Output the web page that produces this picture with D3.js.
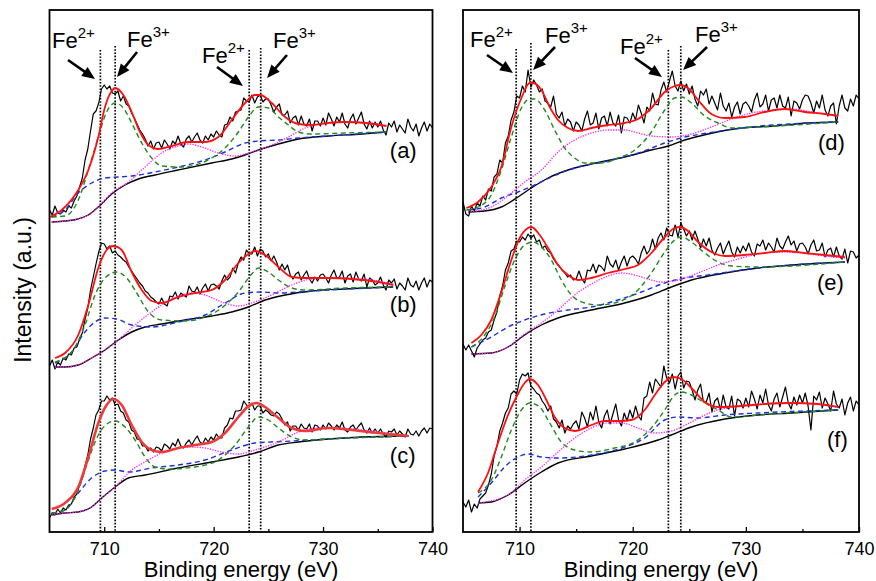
<!DOCTYPE html>
<html><head><meta charset="utf-8">
<script src="https://cdn.jsdelivr.net/npm/d3@7"></script>
<style>
body{margin:0;background:#fff}
svg{display:block}
text{font-family:Arial,"Liberation Sans",Helvetica,sans-serif;fill:#000}
</style>
</head><body>
<svg id="chart" width="876" height="581"></svg>
<script>
// ---------------- DATA (binding energy in eV, intensity in arbitrary units) ----------------
const E_START = 705, E_STEP = 0.25;            // raw spectra sampled every 0.25 eV from 705 eV
const majorTicks = [710, 720, 730, 740];
const minorTicks = [715, 725, 735];
const xDomain = [705, 740];

const rawA = [322,317,326,319,318,322,320,326,324,331,336,345,354,372,383,401,418,421,429,443,
447,443,446,439,438,441,431,436,428,426,419,414,408,402,398,393,386,391,383,389,
390,384,392,388,383,391,388,396,388,385,393,396,390,395,399,392,389,396,392,398,
395,401,397,395,407,408,415,411,420,421,422,434,431,430,437,429,435,437,430,433,
433,427,420,425,428,417,417,421,409,414,416,407,416,408,406,413,401,411,411,406,
414,407,419,413,406,415,410,419,408,404,413,418,408,414,420,408,403,411,404,410,
405,411,402,397,409,405,411,400,407,403,399,413,405,401,408,396,404,410,401,408,404];
const rawB = [166,172,163,170,167,174,172,178,177,184,185,193,199,213,224,242,255,268,280,289,
288,283,286,279,281,277,275,272,270,265,261,257,253,249,246,241,239,235,233,230,
228,234,228,226,236,235,240,233,239,237,235,246,241,240,245,238,244,248,241,247,
248,246,243,251,257,252,255,264,259,269,275,272,282,278,278,285,276,283,281,275,
278,271,276,270,262,268,262,267,257,253,258,260,252,257,261,253,249,255,251,257,
258,254,249,257,262,254,255,261,249,256,258,250,260,253,251,258,245,254,252,247,
249,255,247,242,252,249,253,243,249,246,242,254,247,245,251,242,249,254,245,252,250];
const rawC = [14,19,17,23,19,24,22,27,28,35,38,47,54,66,77,93,104,117,122,131,
131,136,132,134,127,128,121,119,112,110,102,100,93,92,86,86,81,84,80,85,
84,81,88,86,83,89,86,93,86,84,89,92,87,92,96,90,88,94,90,95,
92,98,94,94,104,107,114,113,121,121,122,131,127,125,129,122,126,126,119,122,
120,117,116,120,118,113,107,110,101,106,106,102,108,104,103,108,100,107,106,102,
107,103,109,106,102,107,104,110,102,100,105,107,102,106,109,102,99,104,99,103,
99,103,98,95,101,100,103,97,101,98,95,103,98,97,101,96,101,104,99,104,103];
const rawD = [330,318,316,326,321,329,326,336,332,343,341,355,358,372,369,389,396,412,420,436,
434,446,440,462,445,452,447,440,443,431,429,425,436,418,414,420,406,413,410,401,
410,407,401,413,421,407,409,419,403,414,416,406,420,409,406,417,399,415,414,409,
419,412,427,419,409,425,421,439,428,427,442,450,440,451,461,446,441,451,441,448,
438,446,433,426,441,437,443,428,436,429,422,439,426,421,429,415,425,430,418,428,
430,426,420,432,439,425,428,437,421,432,434,424,437,426,424,435,416,431,429,423,
432,437,436,429,419,431,424,437,422,416,426,429,408,426,437,424,421,433,426,437,433];
const rawE = [188,182,187,181,175,184,188,192,194,200,202,212,220,236,246,262,269,281,283,291,
290,295,292,298,294,297,290,292,284,286,281,279,273,269,266,262,259,255,257,252,
253,261,253,249,262,261,268,259,267,265,261,276,268,265,272,262,270,276,266,274,
276,273,268,279,286,278,282,293,283,294,299,292,304,297,296,307,295,309,303,296,
301,292,301,293,284,293,286,294,282,277,284,289,278,285,291,280,275,285,279,286,
281,289,280,276,288,286,292,282,289,285,280,294,286,283,290,296,287,291,281,288,
289,285,278,287,292,281,282,289,275,282,284,275,285,276,273,283,269,281,280,274,277];
const rawF = [30,25,32,20,28,24,33,36,39,47,58,76,86,101,109,119,124,138,141,138,
152,158,156,159,146,143,139,137,131,127,121,126,113,110,104,112,99,106,103,108,
111,103,120,114,105,120,112,126,110,104,116,122,108,118,128,112,106,119,111,122,
114,126,116,112,134,136,150,139,153,149,145,166,154,149,158,143,156,160,144,151,
150,142,132,142,148,130,130,139,120,131,134,122,137,125,123,136,116,133,131,124,
134,125,141,133,123,137,129,143,127,121,133,139,125,135,145,129,123,135,127,137,
129,139,126,102,136,132,140,124,134,128,121,141,128,124,133,117,129,135,121,131,127];

// fitted curves: [energy, intensity]
const bgA = [[705.2,310],[706.4,311],[707.6,313],[708.55,317],[709.46,325],[710.68,338],[711.9,347],[713.12,353],[714.64,357],[716.77,362],[719.82,369],[721.65,373],[722.87,377],[724.09,382],[725.92,388],[727.75,393],[730.49,396],[733.53,398],[735.8,400]];
const envA = [[705.05,315],[706.11,322],[707.63,342],[708.55,362],[709.46,395],[710.07,425],[710.68,441],[710.99,444],[711.75,437],[712.51,420],[713.27,400],[714.04,387],[714.95,383],[716.17,386],[717.69,390],[719.21,390],[720.43,395],[721.65,412],[722.87,429],[723.79,437],[724.24,437],[725.31,429],[726.53,415],[727.75,408],[728.96,407],[730.49,409],[732.0,410],[733.84,409],[735.8,406]];
const greenA = [[705.2,315],[706.42,316],[707.63,332],[708.55,362],[709.46,395],[710.22,420],[710.99,429],[711.75,424],[712.51,409],[713.43,389],[714.34,374],[715.25,366],[716.77,365],[718.3,367],[719.82,374],[721.04,384],[722.26,400],[723.18,415],[724.09,425],[725.0,424],[725.92,415],[726.83,407],[727.75,400],[728.96,398],[732.0,399],[735.8,400]];
const blueA = [[705.2,315],[706.42,322],[707.63,339],[708.85,349],[710.07,354],[711.29,355],[712.51,356],[714.64,360],[716.77,365],[719.21,372],[721.04,380],[722.87,389],[724.09,391],[725.92,392],[727.75,394],[730.49,396],[735.8,400]];
const magA = [[705.2,310],[706.4,311],[707.6,313],[708.55,317],[709.46,325],[710.68,339],[712.21,350],[713.73,365],[715.25,379],[716.77,386],[717.69,388],[718.91,385],[720.43,379],[721.96,376],[723.48,380],[725.31,387],[726.83,395],[728.36,404],[730.49,409],[732.62,410],[734.45,409],[735.8,406]];

const bgB = [[705.5,165],[706.42,165],[707.63,167],[708.85,174],[710.07,182],[711.29,192],[712.51,200],[713.73,205],[715.25,208],[717.38,212],[719.82,216],[721.65,220],[723.18,225],[724.7,232],[726.53,237],[728.96,241],[732.0,243],[736.4,245]];
const envB = [[705.5,174],[706.42,179],[707.63,197],[708.55,227],[709.46,264],[710.22,282],[710.83,286],[711.6,282],[712.51,260],[713.43,242],[714.34,231],[715.25,229],[716.77,235],[718.3,239],[719.82,242],[721.04,252],[722.26,269],[723.33,279],[723.79,281],[724.7,277],[725.92,265],[727.14,255],[728.36,254],[730.49,254],[732.62,253],[735.06,250],[736.43,247]];
const greenB = [[705.5,170],[707.03,180],[708.24,207],[709.16,237],[710.07,254],[711.14,260],[712.05,254],[712.97,239],[714.04,220],[715.25,212],[717.38,211],[719.21,215],[720.74,224],[722.26,240],[723.48,258],[724.09,264],[725.0,260],[725.92,252],[727.14,244],[728.36,242],[732.0,244],[736.4,245]];
const blueB = [[705.5,169],[707.03,180],[708.24,200],[709.16,210],[710.07,214],[711.14,213],[712.51,207],[714.34,205],[716.77,210],[719.21,217],[721.04,229],[722.87,239],[724.4,240],[725.92,239],[727.75,240],[730.49,242],[736.4,245]];
const magB = [[705.5,165],[706.42,165],[707.63,167],[708.85,174],[710.07,182],[711.29,192],[712.51,204],[713.73,215],[715.25,227],[716.77,236],[717.99,239],[719.21,237],[720.74,230],[722.26,226],[723.48,229],[725.31,237],[727.14,247],[728.96,253],[731.1,254],[733.53,253],[736.4,248]];

const bgC = [[705.2,17],[706.42,19],[707.63,20],[708.85,25],[709.77,34],[711.0,45],[712.21,54],[713.73,57],[716.77,64],[719.82,70],[722.26,75],[724.09,80],[725.92,87],[727.75,90],[730.49,93],[733.53,95],[737.8,96]];
const envC = [[705.2,23],[706.42,29],[707.63,45],[708.55,75],[709.46,109],[710.22,127],[710.83,133],[711.6,127],[712.51,107],[713.43,90],[714.34,82],[715.25,80],[716.77,84],[718.3,87],[719.82,90],[721.04,99],[722.26,115],[723.33,127],[723.94,129],[724.7,125],[725.92,114],[727.14,104],[728.36,101],[730.49,104],[732.62,102],[735.06,99],[737.8,96]];
const greenC = [[705.2,19],[706.42,22],[707.63,42],[708.55,72],[709.46,97],[710.38,109],[710.99,111],[711.9,105],[712.82,92],[713.73,75],[714.64,65],[715.86,63],[718.3,65],[720.43,72],[721.96,87],[723.18,105],[724.09,115],[725.0,112],[725.92,104],[727.14,95],[728.36,92],[732.0,94],[737.8,96]];
const blueC = [[705.2,19],[706.42,22],[707.63,39],[708.85,54],[710.07,61],[710.99,62],[712.21,60],[714.34,64],[716.77,67],[719.21,72],[721.65,82],[723.79,89],[725.31,90],[727.14,91],[730.49,93],[737.8,96]];
const magC = [[705.2,17],[706.42,19],[707.63,20],[708.85,25],[709.77,34],[711.0,45],[712.51,62],[713.73,70],[715.25,79],[716.77,84],[717.99,85],[719.21,84],[720.74,80],[722.26,78],[723.79,82],[725.92,90],[727.75,100],[729.57,104],[731.4,104],[733.53,102],[737.8,96]];

const bgD = [[705.44,320],[706.92,321],[708.39,325],[709.86,335],[711.04,344],[712.52,354],[714.28,362],[716.35,368],[719.29,375],[721.65,382],[723.13,386],[724.6,392],[726.66,398],[729.61,404],[732.56,406],[735.5,409],[738.16,410]];
const envD = [[705.29,324],[706.33,330],[707.5,345],[708.39,365],[709.27,405],[710.16,434],[710.89,449],[711.19,449],[711.93,442],[712.66,425],[713.4,412],[714.28,404],[715.17,401],[716.35,404],[717.82,407],[719.29,409],[720.47,413],[721.65,424],[722.83,440],[723.71,446],[724.16,447],[724.89,444],[725.78,432],[726.96,418],[728.14,414],[729.9,415],[731.67,420],[733.44,423],[735.21,420],[736.98,418],[738.16,416]];
const greenD = [[705.29,322],[706.33,325],[707.5,337],[708.39,362],[709.27,395],[710.16,424],[710.89,433],[711.34,433],[712.22,422],[713.1,402],[713.99,384],[714.87,374],[715.76,369],[717.23,369],[718.7,374],[720.18,382],[721.65,400],[722.83,422],[723.71,434],[724.3,435],[725.19,429],[726.37,416],[727.55,409],[728.73,404],[731.08,405],[738.16,410]];
const blueD = [[705.44,322],[706.92,325],[708.39,334],[709.86,340],[711.34,347],[712.81,355],[714.87,364],[717.82,371],[720.77,380],[722.83,389],[724.6,395],[726.66,399],[729.61,404],[738.16,410]];
const magD = [[705.44,320],[707.5,325],[709.27,339],[710.45,350],[711.93,362],[713.4,380],[714.87,392],[716.35,399],[717.82,402],[719.29,402],[720.47,399],[721.65,396],[723.42,395],[725.19,398],[726.96,405],[728.73,413],[730.49,419],[732.56,422],[734.03,423],[735.8,420],[738.16,416]];

const bgE = [[705.74,178],[707.5,179],[708.98,185],[710.45,197],[711.93,207],[713.4,214],[716.35,222],[719.29,229],[721.65,237],[723.42,245],[725.19,252],[728.14,259],[731.08,264],[734.03,267],[738.75,270]];
const envE = [[705.74,189],[706.62,197],[707.5,212],[708.39,240],[709.27,272],[710.01,294],[710.75,304],[711.04,305],[711.78,297],[712.52,284],[713.4,267],[714.28,257],[715.17,252],[716.35,254],[717.82,259],[719.29,263],[720.47,267],[721.65,279],[722.83,295],[723.71,304],[724.16,305],[724.89,301],[725.78,290],[726.96,280],[728.14,276],[729.9,277],[731.67,279],[733.44,281],[735.21,279],[736.98,277],[738.75,275]];
const greenE = [[705.74,185],[706.92,197],[707.8,215],[708.68,245],[709.57,272],[710.45,287],[711.19,290],[711.93,285],[712.81,272],[713.69,252],[714.58,237],[715.76,229],[716.94,227],[718.7,230],[720.18,239],[721.65,259],[722.83,280],[723.71,292],[724.3,295],[725.19,290],[726.37,279],[727.55,270],[728.73,266],[731.08,265],[738.75,270]];
const blueE = [[705.74,185],[707.5,195],[708.98,205],[710.45,212],[712.22,218],[714.28,222],[716.35,225],[718.7,232],[720.77,240],[722.83,249],[724.6,254],[726.66,257],[729.61,262],[738.75,270]];
const magE = [[705.74,178],[707.5,179],[708.98,185],[710.45,198],[711.93,209],[713.4,222],[714.87,237],[716.35,248],[717.82,256],[719.0,259],[720.18,257],[721.36,253],[722.54,250],[724.01,252],[725.78,259],[727.55,267],[729.31,273],[731.08,278],[732.85,280],[734.91,279],[736.98,276],[738.75,274]];

const bgF = [[706.33,29],[707.5,30],[708.98,37],[710.45,49],[711.93,60],[713.4,69],[716.35,76],[719.29,83],[722.24,92],[723.42,97],[725.19,105],[728.14,113],[731.08,117],[734.03,119],[738.16,122]];
const envF = [[706.33,40],[707.21,59],[708.09,89],[708.98,117],[709.72,135],[710.45,149],[710.89,153],[711.63,147],[712.37,132],[713.1,115],[713.99,104],[714.87,101],[716.35,107],[717.53,111],[718.7,111],[719.88,112],[721.06,122],[721.95,137],[722.83,150],[723.57,155],[724.3,153],[725.19,144],[726.37,130],[727.55,125],[729.61,126],[731.67,128],[734.03,129],[736.39,128],[738.16,125]];
const greenF = [[706.33,39],[707.5,52],[708.39,75],[709.27,102],[710.16,122],[710.89,129],[711.78,125],[712.66,109],[713.69,90],[714.87,82],[716.35,80],[718.41,84],[720.18,90],[721.65,104],[722.83,122],[723.71,137],[724.3,140],[725.19,137],[726.37,129],[727.55,122],[728.73,115],[731.08,117],[738.16,122]];
const blueF = [[706.33,35],[707.5,49],[708.68,65],[709.86,75],[710.75,78],[711.93,75],[713.4,74],[716.35,77],[719.29,85],[721.06,94],[722.83,112],[724.01,115],[725.78,114],[728.14,117],[731.08,119],[738.16,122]];
const magF = [[706.33,29],[708.98,37],[710.45,52],[711.93,65],[713.4,80],[714.87,94],[716.35,104],[717.82,109],[719.0,109],[720.47,104],[721.95,99],[723.42,101],[725.19,110],[726.96,120],[728.73,125],[731.08,128],[734.03,129],[738.16,125]];

const sampleLabels = ["(a)","(b)","(c)","(d)","(e)","(f)"];
// dotted reference lines (eV) per panel
const refLinesL = [709.65, 711.0, 723.25, 724.3];
const refLinesR = [709.7, 711.0, 723.15, 724.25];

// ---------------- LAYOUT ----------------
const svg = d3.select("#chart");
const yTop = 10, yBot = 532;
const y = d3.scaleLinear().domain([0, 522]).range([yBot, yTop]);
const panels = [
  {x: d3.scaleLinear().domain(xDomain).range([49.5, 432.5]), refs: refLinesL,
   refTop: [482, 486, 482, 484],
   spectra: [
     {raw: rawA, bg: bgA, env: envA, g: greenA, b: blueA, m: magA, lab: sampleLabels[0], le: 736.1, li: 374, ew: 1.8},
     {raw: rawB, bg: bgB, env: envB, g: greenB, b: blueB, m: magB, lab: sampleLabels[1], le: 736.1, li: 220, ew: 1.8},
     {raw: rawC, bg: bgC, env: envC, g: greenC, b: blueC, m: magC, lab: sampleLabels[2], le: 736.1, li: 69, ew: 2.6}],
   ann: [
     {t:"Fe", s:"2+", te:705.23, ti:484, x1:706.69, y1:472, x2:709.16, y2:453},
     {t:"Fe", s:"3+", te:712.08, ti:485, x1:713.0,  y1:480, x2:711.17, y2:455},
     {t:"Fe", s:"2+", te:718.94, ti:469, x1:720.31, y1:465, x2:722.68, y2:446},
     {t:"Fe", s:"3+", te:725.42, ti:484, x1:726.7,  y1:477, x2:724.88, y2:454}]},
  {x: d3.scaleLinear().domain(xDomain).range([463, 859]), refs: refLinesR,
   refTop: [483, 489, 482, 486],
   spectra: [
     {raw: rawD, bg: bgD, env: envD, g: greenD, b: blueD, m: magD, lab: sampleLabels[3], le: 736.38, li: 382, ew: 1.8},
     {raw: rawE, bg: bgE, env: envE, g: greenE, b: blueE, m: magE, lab: sampleLabels[4], le: 736.29, li: 242, ew: 1.8},
     {raw: rawF, bg: bgF, env: envF, g: greenF, b: blueF, m: magF, lab: sampleLabels[5], le: 737.17, li: 85, ew: 1.8}],
   ann: [
     {t:"Fe", s:"2+", te:705.62, ti:485, x1:707.12, y1:477, x2:709.42, y2:459},
     {t:"Fe", s:"3+", te:712.25, ti:489, x1:713.13, y1:485, x2:711.19, y2:462},
     {t:"Fe", s:"2+", te:718.88, ti:478, x1:720.2,  y1:474, x2:722.59, y2:455},
     {t:"Fe", s:"3+", te:725.51, ti:490, x1:726.57, y1:485, x2:724.45, y2:462}]}
];

panels.forEach(p => {
  const g = svg.append("g");
  const x = p.x;
  const [xa, xb] = x.range();

  p.refs.forEach((e, i) => {
    g.append("line").attr("x1", x(e)).attr("x2", x(e))
      .attr("y1", y(p.refTop[i])).attr("y2", yBot)
      .attr("stroke", "#000").attr("stroke-width", 1.7).attr("stroke-dasharray", "1.6,1.6");
  });

  const rawLine = d3.line().x((d, i) => x(E_START + i * E_STEP)).y(d => y(d));
  const fitLine = d3.line().x(d => x(d[0])).y(d => y(d[1])).curve(d3.curveMonotoneX);

  p.spectra.forEach(s => {
    g.append("path").attr("d", rawLine(s.raw)).attr("fill", "none")
      .attr("stroke", "#000").attr("stroke-width", 1.2).attr("stroke-linejoin", "round");
    g.append("path").attr("d", fitLine(s.bg)).attr("fill", "none")
      .attr("stroke", "#000").attr("stroke-width", 1.4);
    g.append("path").attr("d", fitLine(s.b)).attr("fill", "none")
      .attr("stroke", "#1a2fe0").attr("stroke-width", 1.4).attr("stroke-dasharray", "5,3.5");
    g.append("path").attr("d", fitLine(s.g)).attr("fill", "none")
      .attr("stroke", "#1f8a1f").attr("stroke-width", 1.4).attr("stroke-dasharray", "5,3.5");
    g.append("path").attr("d", fitLine(s.m)).attr("fill", "none")
      .attr("stroke", "#ff22ff").attr("stroke-width", 1.3).attr("stroke-dasharray", "1.3,1.3");
    g.append("path").attr("d", fitLine(s.env)).attr("fill", "none")
      .attr("stroke", s.ew > 2 ? "#f03a3a" : "#ff1010").attr("stroke-width", s.ew);
    g.append("text").attr("x", x(s.le)).attr("y", y(s.li))
      .attr("font-size", 22).text(s.lab);
  });

  p.ann.forEach(a => {
    const t = g.append("text").attr("x", x(a.te)).attr("y", y(a.ti)).attr("font-size", 22);
    t.append("tspan").text(a.t);
    t.append("tspan").attr("font-size", 15).attr("dy", -10).text(a.s);
    const X1 = x(a.x1), Y1 = y(a.y1), X2 = x(a.x2), Y2 = y(a.y2);
    const dx = X2 - X1, dy = Y2 - Y1, L = Math.hypot(dx, dy);
    const ux = dx / L, uy = dy / L, hl = 13, hw = 5.5;
    const bx = X2 - ux * hl, by = Y2 - uy * hl;
    g.append("line").attr("x1", X1).attr("y1", Y1).attr("x2", bx + ux * 2).attr("y2", by + uy * 2)
      .attr("stroke", "#000").attr("stroke-width", 2.6);
    g.append("path").attr("d", `M${X2},${Y2}L${bx - uy * hw},${by + ux * hw}L${bx + uy * hw},${by - ux * hw}Z`)
      .attr("fill", "#000");
  });

  const ax = g.append("g").attr("transform", `translate(0,${yBot})`)
    .call(d3.axisBottom(x).tickValues(majorTicks).tickSizeInner(-5).tickSizeOuter(0)
      .tickPadding(10).tickFormat(d3.format("d")));
  ax.select(".domain").remove();
  ax.selectAll("line").attr("stroke", "#000").attr("stroke-width", 1.3);
  ax.selectAll("text").attr("font-size", 18).attr("font-family", "Arial, 'Liberation Sans', sans-serif").attr("fill", "#000");
  const mx = g.append("g").attr("transform", `translate(0,${yBot})`)
    .call(d3.axisBottom(x).tickValues(minorTicks).tickSizeInner(-3).tickSizeOuter(0).tickFormat(""));
  mx.select(".domain").remove();
  mx.selectAll("line").attr("stroke", "#000").attr("stroke-width", 1.3);

  g.append("text").attr("x", (xa + xb) / 2).attr("y", 577).attr("text-anchor", "middle")
    .attr("font-size", 22).text("Binding energy (eV)");

  g.append("rect").attr("x", xa).attr("y", yTop).attr("width", xb - xa).attr("height", yBot - yTop)
    .attr("fill", "none").attr("stroke", "#000").attr("stroke-width", 1.8);
});

svg.append("text").attr("transform", "translate(31,290) rotate(-90)")
  .attr("text-anchor", "middle").attr("font-size", 23).text("Intensity (a.u.)");
</script>
</body></html>
